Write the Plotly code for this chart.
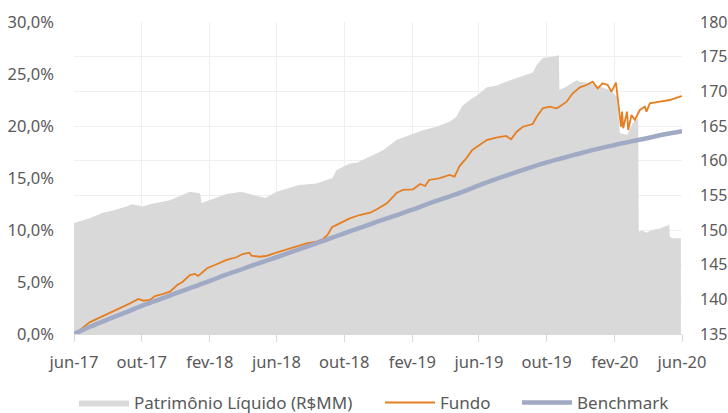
import plotly.graph_objects as go

# ---------------- data ----------------
pl_dates = ["2017-06-01","2017-06-20","2017-06-29","2017-07-23","2017-08-10","2017-09-04","2017-09-13",
            "2017-10-03","2017-10-16","2017-11-03","2017-11-21","2017-12-09","2017-12-27","2018-01-14",
            "2018-01-17","2018-01-27","2018-02-14","2018-03-03","2018-03-30","2018-04-13","2018-05-01",
            "2018-05-12","2018-06-01","2018-06-30","2018-07-12","2018-08-12","2018-08-30","2018-09-10",
            "2018-09-17","2018-10-11","2018-10-24","2018-11-17","2018-12-10","2019-01-04","2019-01-28",
            "2019-02-20","2019-03-16","2019-04-09","2019-04-21","2019-05-02","2019-05-15","2019-06-02",
            "2019-06-15","2019-07-02","2019-07-20","2019-08-13","2019-09-06","2019-09-13","2019-09-24",
            "2019-10-12","2019-10-21","2019-10-23","2019-10-24","2019-11-06","2019-11-24","2019-11-30",
            "2019-12-17","2020-01-04","2020-01-23","2020-02-05","2020-02-10","2020-02-23","2020-03-04",
            "2020-03-14","2020-03-15","2020-03-22","2020-03-29","2020-04-08","2020-04-22","2020-05-07",
            "2020-05-09","2020-05-10","2020-05-15","2020-05-30"]
pl_values = [151.0,151.4,151.7,152.5,152.8,153.4,153.7,
             153.4,153.7,154.0,154.3,154.9,155.5,155.3,
             153.9,154.2,154.7,155.2,155.5,155.2,154.8,
             154.6,155.5,156.2,156.5,156.7,157.2,157.5,
             158.6,159.6,159.7,160.6,161.5,163.0,163.7,
             164.4,164.9,165.6,166.3,167.9,168.7,169.7,
             170.6,170.8,171.4,172.1,172.7,173.8,174.8,
             175.0,175.2,175.2,170.2,170.7,171.6,171.4,
             171.2,170.7,170.2,169.2,164.0,163.7,165.4,
             166.1,149.8,149.9,149.6,150.0,150.2,150.7,
             150.9,149.0,148.8,148.8]

fundo_dates = ["2017-06-01","2017-06-12","2017-06-29","2017-07-17","2017-08-05","2017-08-23","2017-09-10",
               "2017-09-25","2017-10-04","2017-10-16","2017-10-25","2017-11-09","2017-11-21","2017-12-04",
               "2017-12-14","2017-12-27","2018-01-05","2018-01-11","2018-01-27","2018-02-14","2018-03-03",
               "2018-03-21","2018-04-01","2018-04-13","2018-04-17","2018-05-01","2018-05-13","2018-06-01",
               "2018-06-19","2018-07-07","2018-07-25","2018-08-12","2018-08-23","2018-09-01","2018-09-09",
               "2018-09-23","2018-10-11","2018-10-29","2018-11-17","2018-11-29","2018-12-17","2019-01-04",
               "2019-01-15","2019-02-02","2019-02-15","2019-02-24","2019-03-03","2019-03-21","2019-04-09",
               "2019-04-18","2019-04-27","2019-05-09","2019-05-20","2019-06-02","2019-06-15","2019-07-02",
               "2019-07-20","2019-07-29","2019-08-08","2019-08-19","2019-09-06","2019-09-13","2019-09-24",
               "2019-10-06","2019-10-19","2019-10-24","2019-11-06","2019-11-17","2019-11-30","2019-12-12",
               "2019-12-23","2020-01-01","2020-01-10","2020-01-19","2020-01-26","2020-02-03","2020-02-07",
               "2020-02-12","2020-02-14","2020-02-16","2020-02-23","2020-02-25","2020-03-02","2020-03-08",
               "2020-03-17","2020-03-26","2020-03-29","2020-04-04","2020-04-22","2020-05-10","2020-05-28",
               "2020-06-01"]
fundo_values = [0.0,0.38,1.12,1.57,1.99,2.47,2.95,
                3.37,3.20,3.27,3.65,3.85,4.07,4.71,
                5.03,5.67,5.77,5.58,6.32,6.73,7.12,
                7.38,7.69,7.82,7.53,7.43,7.50,7.82,
                8.14,8.46,8.72,8.88,9.10,9.52,10.26,
                10.64,11.12,11.44,11.66,11.99,12.56,13.59,
                13.85,13.91,14.42,14.23,14.81,14.97,15.29,
                15.13,16.15,16.89,17.69,18.17,18.65,18.88,
                19.04,18.72,19.45,19.93,20.19,20.89,21.70,
                21.86,21.70,21.86,22.34,23.14,23.72,23.94,
                24.26,23.62,24.10,23.94,23.30,24.17,22.18,
                19.93,21.38,19.78,21.38,19.62,21.06,20.58,
                21.54,21.86,21.38,22.18,22.34,22.50,22.82,
                22.88]

bench_dates = ["2017-06-01","2017-07-01","2017-08-01","2017-09-01","2017-10-01","2017-11-01","2017-12-01",
               "2018-01-01","2018-02-01","2018-03-01","2018-04-01","2018-05-01","2018-06-01","2018-07-01",
               "2018-08-01","2018-09-01","2018-10-01","2018-11-01","2018-12-01","2019-01-01","2019-02-01",
               "2019-03-01","2019-04-01","2019-05-01","2019-06-01","2019-07-01","2019-08-01","2019-09-01",
               "2019-10-01","2019-11-01","2019-12-01","2020-01-01","2020-02-01","2020-03-01","2020-04-01",
               "2020-05-01","2020-06-01"]
bench_values = [0.00,0.72,1.40,2.05,2.70,3.30,3.90,
                4.50,5.10,5.68,6.25,6.82,7.38,7.95,
                8.52,9.10,9.68,10.25,10.82,11.38,11.95,
                12.52,13.08,13.64,14.30,14.88,15.45,16.00,
                16.50,16.95,17.38,17.80,18.18,18.52,18.85,
                19.20,19.50]

tick_dates = ["2017-06-01","2017-10-01","2018-02-01","2018-06-01","2018-10-01","2019-02-01",
              "2019-06-01","2019-10-01","2020-02-01","2020-06-01"]
tick_labels = ["jun-17","out-17","fev-18","jun-18","out-18","fev-19","jun-19","out-19","fev-20","jun-20"]

pct_ticks = [0, 5, 10, 15, 20, 25, 30]
pct_labels = ["0,0%", "5,0%", "10,0%", "15,0%", "20,0%", "25,0%", "30,0%"]

# ---------------- figure ----------------
FONT = "Noto Sans"
TXT = "#595959"

fig = go.Figure()
fig.add_trace(go.Scatter(
    x=pl_dates, y=pl_values, name="Patrimônio Líquido (R$MM)", mode="lines",
    line=dict(width=0, color="#d9d9d9"), fill="tozeroy", fillcolor="#d9d9d9",
    yaxis="y", legend="legend", showlegend=True))
fig.add_trace(go.Scatter(
    x=fundo_dates, y=fundo_values, name="Fundo", mode="lines",
    line=dict(width=1.8, color="#e67e22"), yaxis="y2", legend="legend2", showlegend=True))
fig.add_trace(go.Scatter(
    x=bench_dates, y=bench_values, name="Benchmark", mode="lines",
    line=dict(width=4.5, color="#a1aac5", shape="spline"), yaxis="y2", legend="legend3",
    showlegend=True))

LEG_Y = -0.221
LEG_FONT = dict(size=17, color=TXT)
fig.update_layout(
    width=728, height=413,
    margin=dict(l=74, r=46, t=22, b=79, autoexpand=False),
    paper_bgcolor="white", plot_bgcolor="white",
    showlegend=True,
    font=dict(family=FONT, size=16.5, color=TXT),
    xaxis=dict(type="date", range=["2017-06-01", "2020-06-01"],
               tickvals=tick_dates, ticktext=tick_labels, automargin=False,
               showgrid=True, gridcolor="#efefef", gridwidth=1,
               ticks="outside", ticklen=7, tickcolor="#d9d9d9",
               showline=True, linecolor="#d9d9d9", ticklabelstandoff=6,
               zeroline=False),
    yaxis=dict(range=[135, 180], dtick=5, side="right", automargin=False,
               showgrid=True, gridcolor="#efefef", zeroline=False,
               ticks="", ticklabelstandoff=17, tickfont=dict(size=16)),
    yaxis2=dict(range=[0, 30], overlaying="y", side="left", automargin=False,
                tickvals=pct_ticks, ticktext=pct_labels,
                showgrid=False, zeroline=False, ticks="", ticklabelstandoff=19),
    legend=dict(orientation="h", x=0 / 608, xanchor="left", y=LEG_Y, yanchor="middle",
                font=LEG_FONT, itemwidth=50, bgcolor="rgba(0,0,0,0)"),
    legend2=dict(orientation="h", x=(380 - 74) / 608, xanchor="left", y=LEG_Y, yanchor="middle",
                 font=LEG_FONT, itemwidth=50, bgcolor="rgba(0,0,0,0)"),
    legend3=dict(orientation="h", x=(517 - 74) / 608, xanchor="left", y=LEG_Y, yanchor="middle",
                 font=LEG_FONT, itemwidth=50, bgcolor="rgba(0,0,0,0)"),
)

fig.write_html(
    "out.html",
    config={"displayModeBar": False},
    post_script="document.body.style.margin='0';document.body.style.overflow='hidden';"
                "document.documentElement.style.overflow='hidden';",
)
